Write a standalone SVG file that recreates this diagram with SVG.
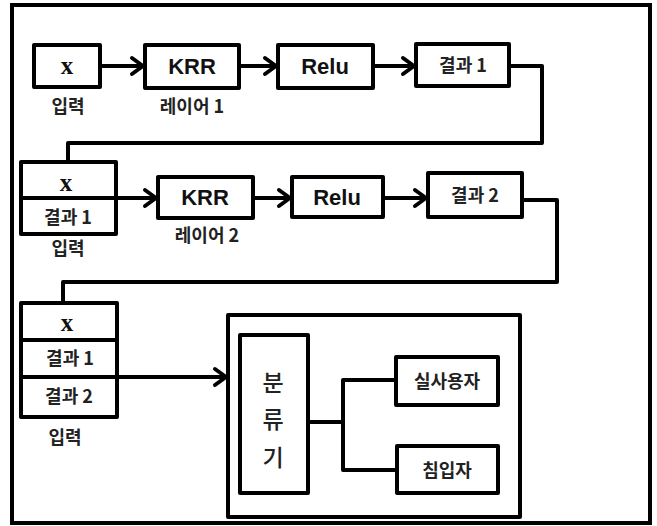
<svg xmlns="http://www.w3.org/2000/svg" width="657" height="526" viewBox="0 0 657 526">
  <defs>
    <style>
      .box { fill: #fff; stroke: #000; stroke-width: 4; stroke-linejoin: round; }
      .frame { fill: #fff; stroke: #000; stroke-width: 4; }
      .line { fill: none; stroke: #000; stroke-width: 4; stroke-linejoin: round; }
      .div { stroke: #000; stroke-width: 4; }
      .var { font-family: "Liberation Serif", serif; font-weight: bold; font-size: 25px; fill: #111; text-anchor: middle; }
      .op { font-family: "Liberation Sans", Arial, sans-serif; font-weight: bold; font-size: 22px; fill: #111; text-anchor: middle; }
      .ko { font-family: "Noto Sans CJK KR", "Noto Sans", sans-serif; font-weight: bold; font-size: 18px; fill: #222; text-anchor: middle; }
      .big { font-size: 23px; font-weight: 500; }
    </style>
    <marker id="arrow" markerUnits="userSpaceOnUse" markerWidth="18" markerHeight="22" refX="15" refY="11" orient="auto">
      <path d="M4,3 L15,11 L4,19" fill="none" stroke="#000" stroke-width="4" stroke-linecap="round" stroke-linejoin="round"/>
    </marker>
  </defs>

  <!-- outer frame -->
  <rect class="frame" x="12" y="5" width="638" height="518"/>

  <!-- row 1 -->
  <g id="input1">
    <rect class="box" x="34" y="45" width="66" height="42"/>
    <text class="var" x="67" y="74">x</text>
    <text class="ko" x="68" y="113">입력</text>
  </g>
  <g id="krr1">
    <rect class="box" x="145" y="45" width="94" height="43"/>
    <text class="op" x="192" y="74">KRR</text>
    <text class="ko" x="192" y="113">레이어 1</text>
  </g>
  <g id="relu1">
    <rect class="box" x="278" y="45" width="95" height="43"/>
    <text class="op" x="325" y="74">Relu</text>
  </g>
  <g id="result1">
    <rect class="box" x="416" y="44" width="93" height="42"/>
    <text class="ko" x="463" y="72">결과 1</text>
  </g>

  <!-- row 2 -->
  <g id="input2">
    <rect class="box" x="21" y="162" width="95" height="72"/>
    <line class="div" x1="21" y1="198" x2="116" y2="198"/>
    <text class="var" x="66" y="191">x</text>
    <text class="ko" x="68" y="224">결과 1</text>
    <text class="ko" x="68" y="255">입력</text>
  </g>
  <g id="krr2">
    <rect class="box" x="158" y="177" width="95" height="41"/>
    <text class="op" x="205" y="205">KRR</text>
    <text class="ko" x="207" y="242">레이어 2</text>
  </g>
  <g id="relu2">
    <rect class="box" x="292" y="177" width="91" height="40"/>
    <text class="op" x="337" y="205">Relu</text>
  </g>
  <g id="result2">
    <rect class="box" x="428" y="173" width="94" height="44"/>
    <text class="ko" x="475" y="202">결과 2</text>
  </g>

  <!-- row 3 -->
  <g id="input3">
    <rect class="box" x="21" y="303" width="96" height="114"/>
    <line class="div" x1="21" y1="340" x2="117" y2="340"/>
    <line class="div" x1="21" y1="377" x2="117" y2="377"/>
    <text class="var" x="67" y="331">x</text>
    <text class="ko" x="70" y="365">결과 1</text>
    <text class="ko" x="69" y="403">결과 2</text>
    <text class="ko" x="65" y="444">입력</text>
  </g>

  <!-- classifier -->
  <g id="classifier">
    <rect class="box" x="228" y="315" width="292" height="202"/>
    <rect class="box" x="240" y="335" width="68" height="158"/>
    <text class="ko big" x="273" y="391">분</text>
    <text class="ko big" x="273" y="428">류</text>
    <text class="ko big" x="273" y="466">기</text>
  </g>
  <g id="user">
    <rect class="box" x="396" y="357" width="102" height="48"/>
    <text class="ko" x="447" y="388">실사용자</text>
  </g>
  <g id="intruder">
    <rect class="box" x="397" y="446" width="101" height="47"/>
    <text class="ko" x="447" y="477">침입자</text>
  </g>

  <!-- connectors -->
  <g id="connectors">
    <line class="line" x1="102" y1="66" x2="143" y2="66" marker-end="url(#arrow)"/>
    <line class="line" x1="241" y1="66" x2="276" y2="66" marker-end="url(#arrow)"/>
    <line class="line" x1="375" y1="66" x2="414" y2="66" marker-end="url(#arrow)"/>
    <polyline class="line" points="511,66 542,66 542,143 68,143 68,160"/>
    <line class="line" x1="118" y1="198" x2="156" y2="198" marker-end="url(#arrow)"/>
    <line class="line" x1="255" y1="198" x2="290" y2="198" marker-end="url(#arrow)"/>
    <line class="line" x1="385" y1="198" x2="426" y2="198" marker-end="url(#arrow)"/>
    <polyline class="line" points="524,200 557,200 557,282 63,282 63,301"/>
    <line class="line" x1="119" y1="377" x2="226" y2="377" marker-end="url(#arrow)"/>
    <line class="line" x1="310" y1="422" x2="343" y2="422"/>
    <polyline class="line" points="394,380 343,380 343,470 395,470"/>
  </g>
</svg>
